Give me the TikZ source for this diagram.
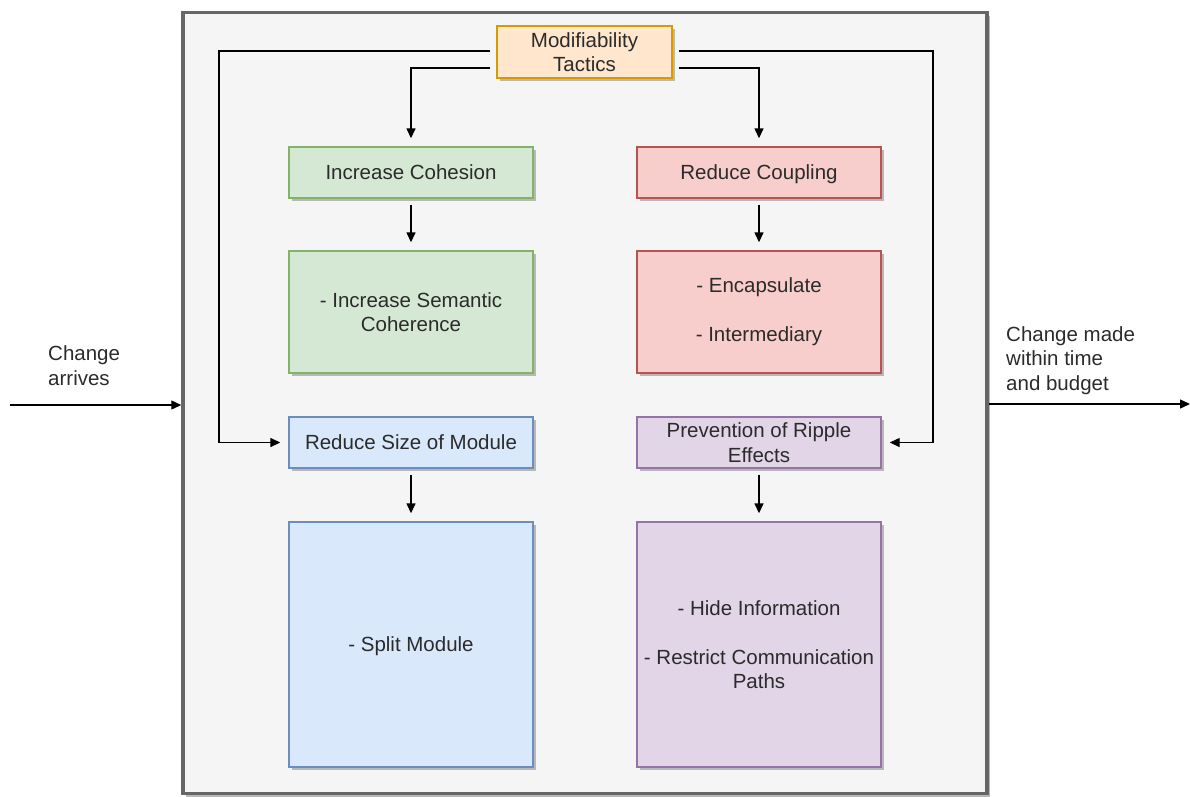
\documentclass[tikz,border=0pt]{standalone}
\usepackage{fontspec}
\setmainfont{Liberation Sans}
\usetikzlibrary{arrows.meta,shadows,calc}
\definecolor{txt}{HTML}{2B2B2B}
\definecolor{sysfill}{HTML}{F5F5F5}
\definecolor{sysline}{HTML}{666666}
\definecolor{orfill}{HTML}{FFE6CC}
\definecolor{orline}{HTML}{D79B00}
\definecolor{grfill}{HTML}{D5E8D4}
\definecolor{grline}{HTML}{82B366}
\definecolor{rdfill}{HTML}{F8CECC}
\definecolor{rdline}{HTML}{B85450}
\definecolor{blfill}{HTML}{DAE8FC}
\definecolor{blline}{HTML}{6C8EBF}
\definecolor{pufill}{HTML}{E1D5E7}
\definecolor{puline}{HTML}{9673A6}
\definecolor{shade}{HTML}{B8B8B8}
% full line box, so single-line labels are centred the same way
\newcommand{\linebox}{\rule[-0.212em]{0pt}{1.117em}}
\begin{document}
\begin{tikzpicture}[x=1pt,y=-1pt,
  font=\fontsize{20.5}{24.5}\selectfont,
  every node/.style={text=txt},
  shadowed/.style={drop shadow={shadow xshift=3pt,shadow yshift=-3pt,fill=shade,opacity=1}},
  sysbox/.style={rectangle, draw=sysline, fill=sysfill, line width=3.5pt, shadowed},
  box/.style={rectangle, line width=1.4pt, align=center, inner sep=2pt, shadowed},
  oneline/.style={execute at begin node=\linebox},
  tactic/.style={box, minimum width=244pt, minimum height=51pt},
  detail/.style={box, minimum width=244pt},
  orangebox/.style={draw=orline, fill=orfill},
  greenbox/.style={draw=grline, fill=grfill},
  redbox/.style={draw=rdline, fill=rdfill},
  bluebox/.style={draw=blline, fill=blfill},
  purplebox/.style={draw=puline, fill=pufill},
  link/.style={line width=1.4pt, draw=black},
  arr/.style={link, -{Triangle[length=10pt,width=9pt]}, shorten >=8pt},
  lbl/.style={align=left, inner sep=0pt}]
\useasboundingbox (0,0) rectangle (1190,796);

% system boundary
\node[sysbox, minimum width=804pt, minimum height=781pt] (sys) at (585,403) {};

% root
\node[box, orangebox, minimum width=175pt, minimum height=52pt] (mt) at (584.5,52)
  {Modifiability\\Tactics};

% tactic groups
\node[tactic, oneline, greenbox] (ic) at (411,172.5) {Increase Cohesion};
\node[tactic, oneline, redbox] (rc) at (759,172.5) {Reduce Coupling};
\node[tactic, oneline, bluebox] (rs) at (411,442.5) {Reduce Size of Module};
\node[tactic, purplebox] (pr) at (759,442.5) {Prevention of Ripple\\Effects};

% tactics
\node[detail, greenbox, minimum height=122pt] (isc) at (411,312)
  {- Increase Semantic\\Coherence};
\node[detail, redbox, minimum height=122pt] (enc) at (759,312)
  {- Encapsulate\\[24.5pt]- Intermediary};
\node[detail, oneline, bluebox, minimum height=245pt] (sm) at (411,644.5) {- Split Module};
\node[detail, purplebox, minimum height=245pt] (hi) at (759,644.5)
  {- Hide Information\\[24.5pt]- Restrict Communication\\Paths};

% branch columns
\coordinate (lcol) at (219,0);
\coordinate (rcol) at (933,0);

% root to groups
\draw[arr, shorten <=6pt] ($(mt.west)+(0,-1)$) -| (lcol |- rs.west) -- (rs.west);
\draw[arr, shorten <=6pt] ($(mt.west)+(0,16)$) -| (ic.north);
\draw[arr, shorten <=6pt] ($(mt.east)+(0,-1)$) -| (rcol |- pr.east) -- (pr.east);
\draw[arr, shorten <=6pt] ($(mt.east)+(0,16)$) -| (rc.north);

% groups to tactics
\draw[arr, shorten <=6pt] (ic.south) -- (isc.north);
\draw[arr, shorten <=6pt] (rc.south) -- (enc.north);
\draw[arr, shorten <=6pt] (rs.south) -- (sm.north);
\draw[arr, shorten <=6pt] (pr.south) -- (hi.north);

% stimulus and response
\coordinate (src) at (10,405);
\coordinate (dst) at (1190,404);
\draw[arr, shorten >=0pt] (src) -- (src -| sys.west);
\draw[arr, shorten >=0pt] (sys.east |- dst) -- (dst);
\node[lbl, anchor=base west] (inlbl) at (48,385) {Change\\arrives};
\node[lbl, anchor=base west] (outlbl) at (1006,390) {Change made\\within time\\and budget};
\end{tikzpicture}
\end{document}
